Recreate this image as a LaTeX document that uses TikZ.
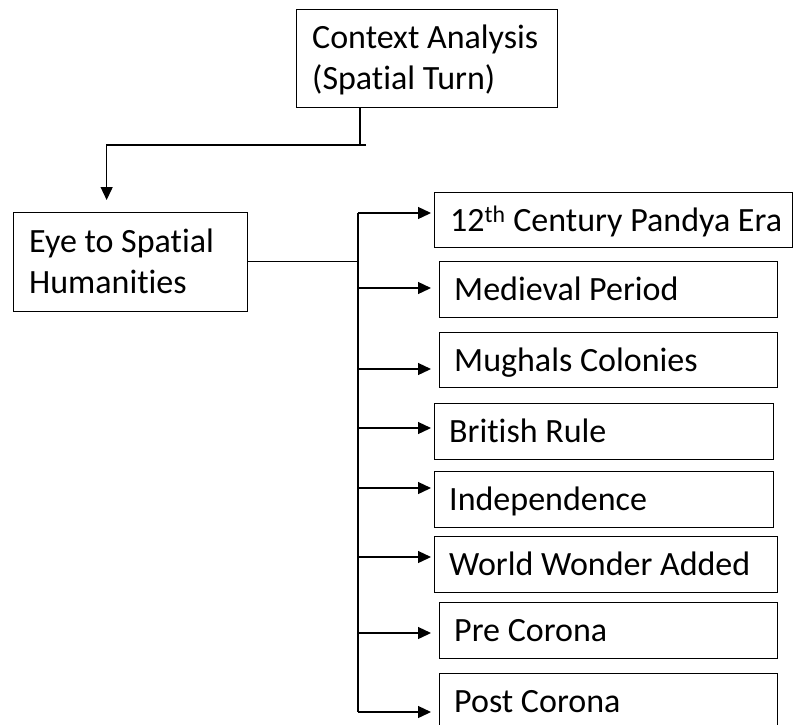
\documentclass[tikz,border=0pt]{standalone}
\usepackage{fontspec}
\setmainfont[RawFeature={-liga}]{Carlito}
\usetikzlibrary{arrows.meta,calc}
\tikzset{
  box/.style={draw, line width=1.3pt, inner sep=0pt, anchor=north west},
  txt/.style={anchor=base west, inner sep=0pt, align=left, font=\fontsize{34}{41}\selectfont},
  conn/.style={line width=1.3pt},
  arr/.style={conn, -{Triangle[length=13pt,width=12pt]}}
}
\begin{document}
\begin{tikzpicture}[x=1pt,y=-1pt]
\clip (0,0) rectangle (794,724);
\useasboundingbox (0,0) rectangle (794,724);
% boxes
\node[box, minimum width=261pt, minimum height=98pt] (ctx) at (296,9) {};
\node[box, minimum width=234pt, minimum height=99pt] (eye) at (13,212) {};
\node[box, minimum width=358pt, minimum height=55pt] (b1) at (434,192) {};
\node[box, minimum width=338pt, minimum height=56pt] (b2) at (439,261) {};
\node[box, minimum width=338pt, minimum height=55pt] (b3) at (439,332) {};
\node[box, minimum width=339pt, minimum height=56pt] (b4) at (434,403) {};
\node[box, minimum width=339pt, minimum height=56pt] (b5) at (434,471) {};
\node[box, minimum width=343pt, minimum height=56pt] (b6) at (434,536) {};
\node[box, minimum width=338pt, minimum height=56pt] (b7) at (439,602) {};
\node[box, minimum width=338pt, minimum height=56pt] (b8) at (439,673) {};
% texts
\node[txt] (ctxa) at (312,48) {Context Analysis};
\node[txt] (ctxb) at (312,89) {(Spatial Turn)};
\node[txt] (eyea) at (29,252) {Eye to Spatial};
\node[txt] (eyeb) at (29,293) {Humanities};
\node[txt] (t1) at ([xshift=16pt,yshift=-11pt]b1.west) {12\textsuperscript{th} Century Pandya Era};
\node[txt] (t2) at ([xshift=15pt,yshift=-11pt]b2.west) {Medieval Period};
\node[txt] (t3) at ([xshift=15pt,yshift=-11pt]b3.west) {Mughals Colonies};
\node[txt] (t4) at ([xshift=15pt,yshift=-11pt]b4.west) {British Rule};
\node[txt] (t5) at ([xshift=15pt,yshift=-11pt]b5.west) {Independence};
\node[txt] (t6) at ([xshift=15pt,yshift=-11pt]b6.west) {World Wonder Added};
\node[txt] (t7) at ([xshift=15pt,yshift=-11pt]b7.west) {Pre Corona};
\node[txt] (t8) at ([xshift=15pt,yshift=-11pt]b8.west) {Post Corona};
% connector context -> eye
\coordinate (j1) at (366,145);
\draw[conn] ([xshift=64pt]ctx.south west) |- (j1);
\draw[arr] (j1) -| ([xshift=-24pt,yshift=12pt]eye.north);
% eye -> trunk
\coordinate (jt) at (358,261.5);
\coordinate (a1) at (358,213);
\coordinate (a2) at (358,288);
\coordinate (a3) at (358,369);
\coordinate (a4) at (358,428);
\coordinate (a5) at (358,488);
\coordinate (a6) at (358,557);
\coordinate (a7) at (358,633);
\coordinate (a8) at (358,712);
\draw[conn] (eye.east |- jt) -- (jt);
\draw[conn] (a1) -- (a8);
\draw[arr, shorten >=3pt] (a1) -- (b1.west |- a1);
\draw[arr, shorten >=8pt] (a2) -- (b2.west |- a2);
\draw[arr, shorten >=8pt] (a3) -- (b3.west |- a3);
\draw[arr, shorten >=3pt] (a4) -- (b4.west |- a4);
\draw[arr, shorten >=3pt] (a5) -- (b5.west |- a5);
\draw[arr, shorten >=3pt] (a6) -- (b6.west |- a6);
\draw[arr, shorten >=8pt] (a7) -- (b7.west |- a7);
\draw[arr, shorten >=8pt] (a8) -- (b8.west |- a8);
\end{tikzpicture}
\end{document}
